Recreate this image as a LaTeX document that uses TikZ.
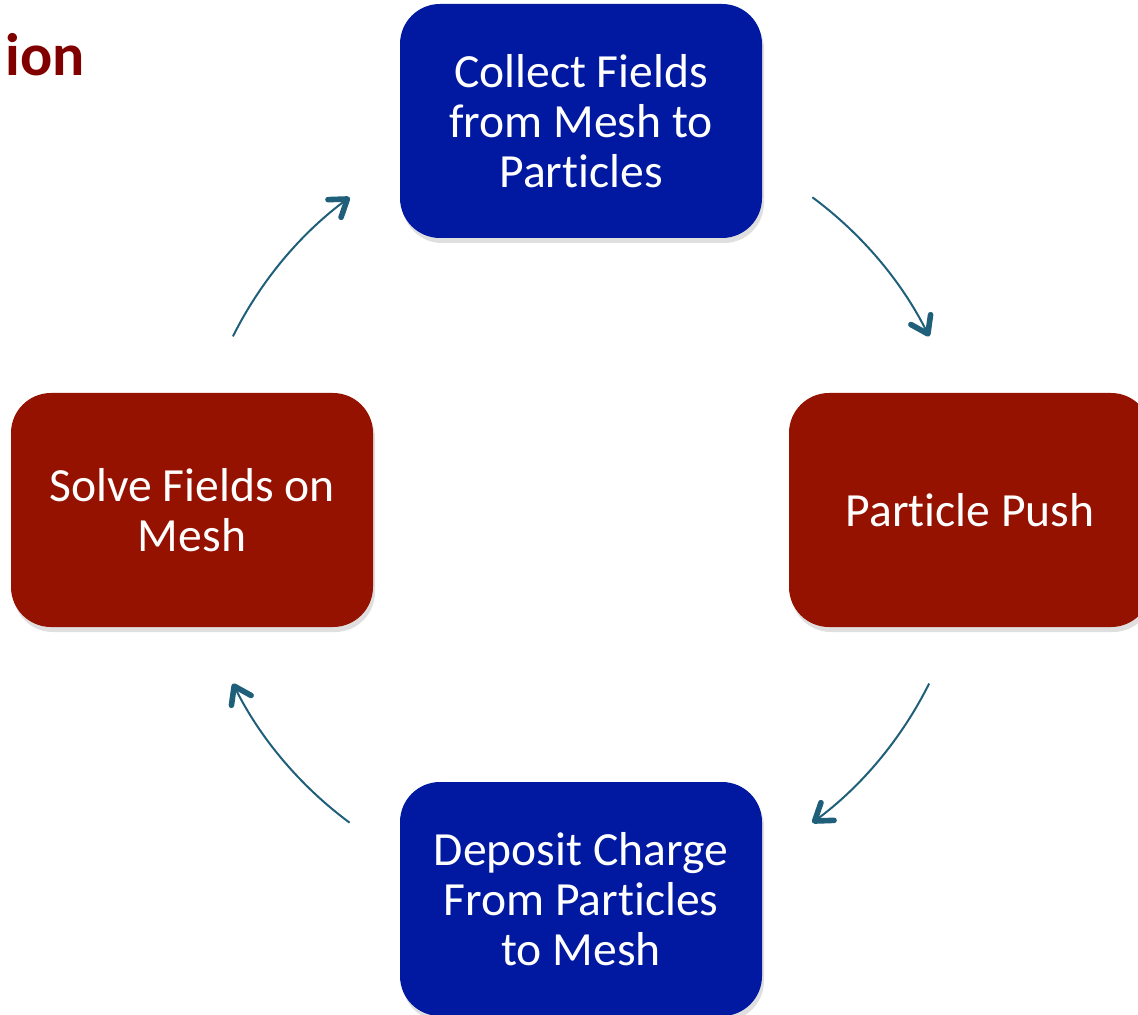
\documentclass[tikz,border=0pt]{standalone}
\usepackage{fontspec}
\setmainfont{Carlito}[Ligatures={NoCommon,NoContextual}]
\usepackage{tikz}
\usetikzlibrary{shadows}
\usetikzlibrary{arrows.meta}
\definecolor{stageblue}{RGB}{0,25,160}
\definecolor{stagered}{RGB}{150,18,0}
\definecolor{loopteal}{RGB}{31,95,122}
\definecolor{titlered}{RGB}{128,0,0}
\tikzset{x=0.5pt, y=0.5pt,
 stage/.style={rounded corners=20pt, minimum width=181pt, minimum height=117pt,
   align=center, text=white, font=\fontsize{23.8}{25}\selectfont,
   drop shadow={shadow xshift=1pt, shadow yshift=-2.5pt, opacity=0.25}},
 bluestage/.style={stage, fill=stageblue},
 redstage/.style={stage, fill=stagered},
 loop arrow/.style={draw=loopteal, line width=1pt,
   -{Straight Barb[length=8pt, width=11pt, line width=2.8pt, round]}},
 }

\begin{document}
\begin{tikzpicture}
        \useasboundingbox (0,0) rectangle (1138,-1015);
        \clip (0,0) rectangle (1138,-1015);

        \node[anchor=base west, inner sep=0pt, text=titlered, font=\bfseries\fontsize{30}{36}\selectfont] (title) at (5,-76) {ion};

        \node[bluestage] (collect) at (581,-121) {Collect Fields\\from Mesh to\\Particles};
        \node[redstage] (push) at (970,-510) {Particle Push};
        \node[bluestage] (deposit) at (581,-899) {Deposit Charge\\From Particles\\to Mesh};
        \node[redstage] (solve) at (192,-510) {Solve Fields on\\Mesh};

        \coordinate (hub) at (581,-510);
        \foreach \a in {153.5, 53.5, -26.5, -126.5} {
            \draw[loop arrow] (hub) ++(\a:389) arc[start angle=\a, delta angle=-27, radius=389];
        }
    \end{tikzpicture}
\end{document}
